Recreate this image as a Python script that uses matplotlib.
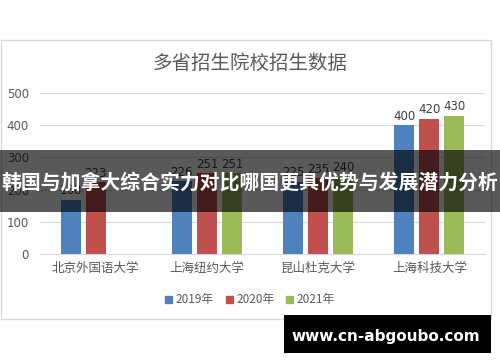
import numpy as np
import matplotlib
matplotlib.use("Agg")
import matplotlib.pyplot as plt
from matplotlib.patches import Rectangle, Patch

plt.rcParams['font.family'] = ['Noto Sans CJK SC', 'DejaVu Sans']

# -------------------------
# data
# -------------------------
schools = ['北京外国语大学', '上海纽约大学', '昆山杜克大学', '上海科技大学']
years = ['2019年', '2020年', '2021年']
v2019 = [168, 226, 225, 400]
v2020 = [223, 251, 235, 420]
v2021 = [np.nan, 251, 240, 430]
colors = ['#4F81BD', '#C0504D', '#9BBB59']

fig = plt.figure(figsize=(5, 3.62), dpi=100)
ax = fig.add_axes([0.08, 1 - 254 / 362, 0.89, (254 - 93) / 362])

x = np.arange(len(schools))
width = 0.18
step = 0.225
for k, (vals, c) in enumerate(zip([v2019, v2020, v2021], colors)):
    pos = x + (k - 1) * step
    ax.bar(pos, vals, width=width, color=c, zorder=3)
    for p, v in zip(pos, vals):
        if not np.isnan(v):
            ax.text(p, v + 8, f"{v:g}", ha='center', va='bottom',
                    fontsize=8.5, color='#404040', family='DejaVu Sans')

ax.set_xlim(-0.5, 3.5)
ax.set_ylim(0, 500)
ax.set_yticks(range(0, 501, 100))
ax.yaxis.grid(True, color='#d9d9d9', linewidth=0.8, zorder=0)
for s in ['top', 'right', 'left']:
    ax.spines[s].set_visible(False)
ax.spines['bottom'].set_color('#d9d9d9')
ax.tick_params(length=0, colors='#595959')
ax.tick_params(axis='y', labelsize=8.5, pad=8)
ax.tick_params(axis='x', labelsize=9, pad=6)
ax.set_xticks(x)
ax.set_xticklabels(schools)
for t in ax.get_yticklabels():
    t.set_family('DejaVu Sans')

# title
fig.text(0.5, 1 - 63 / 362, '多省招生院校招生数据', ha='center', va='center',
         fontsize=14, color='#595959')

# legend
handles = [Patch(color=c) for c in colors]
fig.legend(handles, years, loc='center', bbox_to_anchor=(0.5, 1 - 300 / 362),
           ncol=3, frameon=False, fontsize=8.5, handlelength=0.6,
           handleheight=0.6, handletextpad=0.3, columnspacing=1.0,
           labelcolor='#595959')

# chart frame
fig.add_artist(Rectangle((0.002, 1 - 319 / 362), 490 / 500, 279 / 362,
                         transform=fig.transFigure, fill=False,
                         edgecolor='#d9d9d9', linewidth=1))

# dark banner over the chart
fig.add_artist(Rectangle((0, 1 - 212 / 362), 1, 62 / 362,
                         transform=fig.transFigure, facecolor='black',
                         alpha=0.65, edgecolor='none', zorder=10))
fig.text(0.5, 1 - 182 / 362, '韩国与加拿大综合实力对比哪国更具优势与发展潜力分析',
         ha='center', va='center', fontsize=14.3, fontweight='bold',
         color='white', zorder=11)

# watermark box
fig.add_artist(Rectangle((284 / 500, 1 - 353 / 362), 207 / 500, 38 / 362,
                         transform=fig.transFigure, facecolor='black',
                         edgecolor='none', zorder=10))
fig.text(386 / 500, 1 - 336 / 362, 'www.cn-abgoubo.com', ha='center',
         va='center', fontsize=11, fontweight='bold', color='white',
         family='DejaVu Sans', zorder=11)

fig.savefig('out.png', dpi=100)
